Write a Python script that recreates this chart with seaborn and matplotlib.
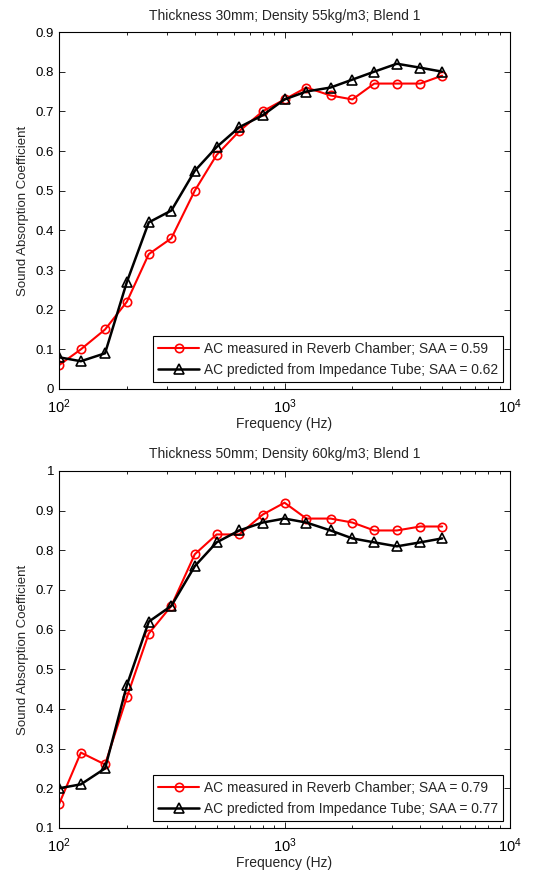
import numpy as np
import pandas as pd
import matplotlib
matplotlib.use("Agg")
import matplotlib.pyplot as plt
import seaborn as sns
from matplotlib.ticker import LogLocator, MultipleLocator, FormatStrFormatter

# One-third octave band centre frequencies (Hz)
freq = [100, 125, 160, 200, 250, 315, 400, 500, 630, 800,
        1000, 1250, 1600, 2000, 2500, 3150, 4000, 5000]

# Panel 1: 30 mm, 55 kg/m3
reverb_30 = [0.06, 0.10, 0.15, 0.22, 0.34, 0.38, 0.50, 0.59, 0.65, 0.70,
             0.73, 0.76, 0.74, 0.73, 0.77, 0.77, 0.77, 0.79]
tube_30 = [0.08, 0.07, 0.09, 0.27, 0.42, 0.45, 0.55, 0.61, 0.66, 0.69,
           0.73, 0.75, 0.76, 0.78, 0.80, 0.82, 0.81, 0.80]

# Panel 2: 50 mm, 60 kg/m3
reverb_50 = [0.16, 0.29, 0.26, 0.43, 0.59, 0.66, 0.79, 0.84, 0.84, 0.89,
             0.92, 0.88, 0.88, 0.87, 0.85, 0.85, 0.86, 0.86]
tube_50 = [0.20, 0.21, 0.25, 0.46, 0.62, 0.66, 0.76, 0.82, 0.85, 0.87,
           0.88, 0.87, 0.85, 0.83, 0.82, 0.81, 0.82, 0.83]

titles = ["Thickness 30mm; Density 55kg/m3; Blend 1",
          "Thickness 50mm; Density 60kg/m3; Blend 1"]
saa_reverb = [0.59, 0.79]
saa_tube = [0.62, 0.77]
ylims = [(0.0, 0.9), (0.1, 1.0)]

sns.set_theme(style="ticks")
plt.rcParams["font.family"] = ["Liberation Sans", "DejaVu Sans"]
plt.rcParams["mathtext.default"] = "regular"
plt.rcParams["axes.linewidth"] = 0.8

fig = plt.figure(figsize=(5.35, 8.72), dpi=100)
axes = [fig.add_axes([0.1103, 0.5539, 0.843, 0.4094]),
        fig.add_axes([0.1103, 0.0505, 0.843, 0.4094])]

panels = [(reverb_30, tube_30), (reverb_50, tube_50)]

for i, ax in enumerate(axes):
    rev, tube = panels[i]
    lab_r = f"AC measured in Reverb Chamber; SAA = {saa_reverb[i]:.2f}"
    lab_t = f"AC predicted from Impedance Tube; SAA = {saa_tube[i]:.2f}"
    df = pd.DataFrame({"freq": freq * 2,
                       "ac": rev + tube,
                       "series": [lab_r] * len(freq) + [lab_t] * len(freq)})
    sns.lineplot(data=df[df.series == lab_r], x="freq", y="ac", ax=ax,
                 color="#ff0000", lw=1.5, marker="o", markersize=6,
                 markerfacecolor="none", markeredgecolor="#ff0000",
                 markeredgewidth=1.2, label=lab_r)
    sns.lineplot(data=df[df.series == lab_t], x="freq", y="ac", ax=ax,
                 color="black", lw=1.8, marker="^", markersize=7,
                 markerfacecolor="none", markeredgecolor="black",
                 markeredgewidth=1.2, label=lab_t)

    ax.set_xscale("log")
    ax.set_xlim(100, 10000)
    ax.set_ylim(*ylims[i])
    ax.xaxis.set_major_locator(LogLocator(base=10))
    ax.xaxis.set_minor_locator(LogLocator(base=10, subs=np.arange(2, 10)))
    ax.yaxis.set_major_locator(MultipleLocator(0.1))
    ax.yaxis.set_major_formatter(FormatStrFormatter("%g"))
    ax.tick_params(which="both", direction="in", top=True, right=True,
                   labelsize=9.5, colors="black")
    ax.tick_params(which="major", length=4, width=0.6)
    ax.tick_params(which="minor", length=2.5, width=0.6)
    ax.tick_params(axis="x", which="major", labelsize=10.5, pad=6)
    for s in ax.spines.values():
        s.set_visible(True)
        s.set_color("black")
        s.set_linewidth(0.8)
    ax.set_title(titles[i], fontsize=10, pad=9)
    ax.set_xlabel("Frequency (Hz)", fontsize=10, labelpad=1)
    ax.set_ylabel("Sound Absorption Coefficient", fontsize=9.5, labelpad=5)
    ax.grid(False)
    leg = ax.legend(loc="lower right", fontsize=9.9, frameon=True,
                    fancybox=False, edgecolor="black", framealpha=1,
                    handlelength=3.0, borderpad=0.4, labelspacing=0.5,
                    handletextpad=0.3, borderaxespad=0.5)
    leg.get_frame().set_linewidth(0.8)

fig.savefig("out.png", dpi=100, facecolor="white")
